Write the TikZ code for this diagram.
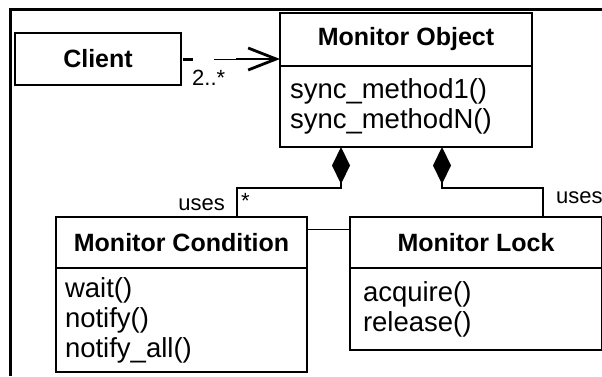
\documentclass[tikz,border=0pt]{standalone}
\usepackage{fontspec}
\setmainfont{Liberation Sans}
\usetikzlibrary{arrows.meta,positioning}

\begin{document}
\begin{tikzpicture}[x=1pt,y=-1pt,>=Latex,
    classname/.style={draw,line width=1.6pt,inner sep=0pt,outer sep=0pt,
      font=\fontsize{25pt}{30pt}\selectfont\bfseries},
    classops/.style={draw,line width=1.6pt,inner xsep=10pt,inner ysep=0pt,outer sep=0pt,
      align=left,font=\fontsize{27.5pt}{30pt}\selectfont},
    small/.style={inner sep=0pt,font=\fontsize{22pt}{26pt}\selectfont},
    compose/.style={line width=2.6pt,{Diamond[length=37pt,width=18pt]}-},
    thinlink/.style={line width=1pt}]
  \useasboundingbox (0,0) rectangle (602,376);
  % frame
  \draw[line width=3pt] (10,376) -- (10,9) -- (602,9);

  % classes
  \node[classname,minimum width=166pt,minimum height=52pt] (client) at (98,59) {Client};

  \node[classname,minimum width=252pt,minimum height=53pt] (obj) at (406,39.5) {Monitor Object};
  \node[classops,text width=232pt,minimum height=81pt,below=0pt of obj] (objops)
    {sync\_method1()\\sync\_methodN()};

  \node[classname,minimum width=251pt,minimum height=51pt] (cond) at (181.5,242.5) {Monitor Condition};
  \node[classops,text width=233pt,inner xsep=9pt,minimum height=104pt,below=0pt of cond] (condops)
    {wait()\\notify()\\notify\_all()};

  \node[classname,minimum width=252pt,minimum height=51pt] (lock) at (476,242.5) {Monitor Lock};
  \node[classops,text width=226pt,inner xsep=13pt,minimum height=82pt,below=0pt of lock] (lockops)
    {acquire()\\release()};

  % client -> monitor object
  \coordinate (arrtail) at (236,59);
  \draw[line width=3pt] ([xshift=2pt]client.east) -- ++(10,0);
  \draw[thinlink] ([xshift=33pt]client.east) -- (arrtail);
  \draw[line width=2.8pt,-{Straight Barb[length=28pt,width=22pt]}] (arrtail) -- (obj.west |- arrtail);
  \node[small,anchor=base west] (mult) at (192,85) {2..*};

  % compositions
  \draw[compose] ([xshift=61pt]objops.south west) -- ++(0,41) -| ([xshift=181pt]cond.north west);
  \draw[compose] ([xshift=162pt]objops.south west) -- ++(0,41) -| ([xshift=193pt]lock.north west);
  \node[small,anchor=base east] (usesl) at (225,210) {uses};
  \node[small,anchor=base west] (star) at (241,208) {*};
  \node[small,anchor=base west] (usesr) at (556,203) {uses};

  % condition -- lock
  \draw[thinlink] ([yshift=13pt]cond.east) -- ([yshift=13pt]lock.west);
\end{tikzpicture}
\end{document}
